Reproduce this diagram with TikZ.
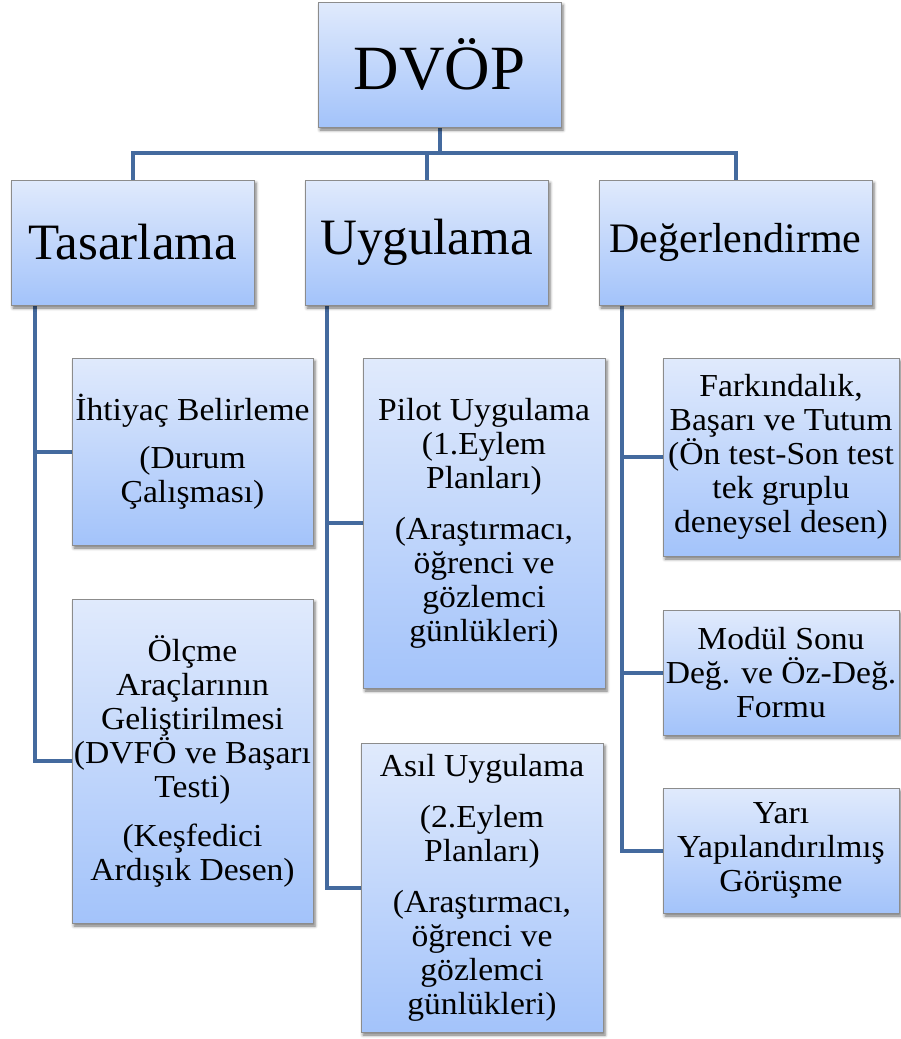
\documentclass[tikz,border=0pt]{standalone}
\usepackage{fontspec}
\setmainfont{Liberation Serif}
\newfontfamily\leaffont[FakeStretch=1.05]{Liberation Serif}
\usetikzlibrary{shadows.blur,backgrounds}

\definecolor{boxtop}{RGB}{224,234,252}
\definecolor{boxbot}{RGB}{163,195,250}
\definecolor{linkblue}{RGB}{68,106,158}

\tikzset{
  card/.style={rectangle, draw=black!45, line width=.8pt, top color=boxtop, bottom color=boxbot,
    align=center, inner sep=0pt,
    blur shadow={shadow xshift=2pt, shadow yshift=-3pt, shadow blur radius=3pt, shadow opacity=55}},
  root/.style={card, minimum width=243pt, minimum height=125pt, font=\fontsize{63}{70}\selectfont},
  head/.style={card, minimum width=243pt, minimum height=125pt, font=\fontsize{51}{56}\selectfont},
  leaf/.style={card, font=\leaffont\fontsize{32}{34}\selectfont},
  link/.style={draw=linkblue, line width=4pt}
}

\begin{document}
\begin{tikzpicture}[x=1pt, y=-1pt]
  \useasboundingbox (0,0) rectangle (901,1039);
  \coordinate (bar) at (0,153);
  % top levels
  \node [root] (dvop) at (439.5,64.5) {DVÖP};
  \node [head] (tas) at (132.5,242.5) {Tasarlama};
  \node [head] (uyg) at (426.5,242.5) {Uygulama};
  \node [head, minimum width=273pt, font=\fontsize{42}{48}\selectfont] (deg) at (735.5,242.5) {Değerlendirme};
  % Tasarlama
  \node [leaf, minimum width=241pt, minimum height=187pt] (ihtiyac) at (192.5,451.5)
    {İhtiyaç Belirleme\\[14pt] (Durum\\ Çalışması)};
  \node [leaf, minimum width=241pt, minimum height=324pt] (olcme) at (192.5,761)
    {Ölçme\\ Araçlarının\\ Geliştirilmesi\\ (DVFÖ ve Başarı\\ Testi)\\[15pt] (Keşfedici\\ Ardışık Desen)};
  % Uygulama
  \node [leaf, minimum width=242pt, minimum height=330pt] (pilot) at (484,523)
    {Pilot Uygulama\\ (1.Eylem\\ Planları)\\[17pt] (Araştırmacı,\\ öğrenci ve\\ gözlemci\\ günlükleri)};
  \node [leaf, minimum width=242pt, minimum height=289pt] (asil) at (482,887.5)
    {Asıl Uygulama\\[17pt] (2.Eylem\\ Planları)\\[17pt] (Araştırmacı,\\ öğrenci ve\\ gözlemci\\ günlükleri)};
  % Degerlendirme
  \node [leaf, minimum width=236pt, minimum height=198pt] (fark) at (781,457)
    {Farkındalık,\\ Başarı ve Tutum\\ (Ön test-Son test\\ tek gruplu\\ deneysel desen)};
  \node [leaf, minimum width=236pt, minimum height=125pt] (modul) at (781,672.5)
    {Modül Sonu\\ Değ. ve Öz-Değ.\\ Formu};
  \node [leaf, minimum width=236pt, minimum height=125pt] (yari) at (781,850.5)
    {Yarı\\ Yapılandırılmış\\ Görüşme};

  \begin{pgfonlayer}{background}
    \draw [link] (dvop.south) -- (dvop.south |- bar) -| (tas.north);
    \draw [link] (dvop.south) -- (dvop.south |- bar) -| (uyg.north);
    \draw [link] (dvop.south) -- (dvop.south |- bar) -| (deg.north);
    \draw [link] ([xshift=24pt]tas.south west) |- (ihtiyac.west);
    \draw [link] ([xshift=24pt]tas.south west) |- (olcme.west);
    \draw [link] ([xshift=22pt]uyg.south west) |- (pilot.west);
    \draw [link] ([xshift=22pt]uyg.south west) |- (asil.west);
    \draw [link] ([xshift=23pt]deg.south west) |- (fark.west);
    \draw [link] ([xshift=23pt]deg.south west) |- (modul.west);
    \draw [link] ([xshift=23pt]deg.south west) |- (yari.west);
  \end{pgfonlayer}
\end{tikzpicture}
\end{document}
